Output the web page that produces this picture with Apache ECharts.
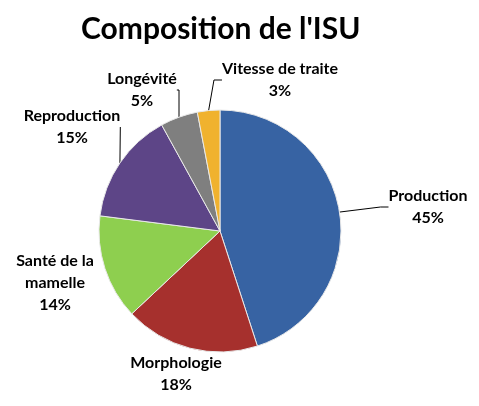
<!DOCTYPE html>
<html><head><meta charset="utf-8">
<script src="https://cdn.jsdelivr.net/npm/echarts@6/dist/echarts.min.js"></script>
<style>html,body{margin:0;padding:0;background:#fff}#c{width:479px;height:406px}</style>
</head><body><div id="c"></div>
<script>
const categories = ["Production", "Morphologie", "Santé de la\nmamelle", "Reproduction", "Longévité", "Vitesse de traite"];
const values = [45, 18, 14, 15, 5, 3];
const colors = ["#3763a3", "#a6302d", "#8ecf4f", "#5d4587", "#7f7f7f", "#f0b22e"];
const showLines = [true, false, false, true, true, true];
// label block centres (layout only)
const labelPos = [[428, 207], [176, 374], [55, 283], [72, 127], [142, 90], [280, 80]];

const chart = echarts.init(document.getElementById('c'), null, {renderer: 'canvas'});
chart.setOption({
  animation: false,
  title: {
    text: "Composition de l'ISU",
    left: 76, top: 9,
    textStyle: {fontFamily: 'Lato', fontWeight: 'bold', fontSize: 30, color: '#000'}
  },
  series: [{
    type: 'pie',
    center: [220, 231],
    radius: 121,
    startAngle: 90,
    clockwise: true,
    avoidLabelOverlap: false,
    itemStyle: {borderColor: '#e8e8e8', borderWidth: 1},
    label: {
      show: true,
      formatter: '{b}\n{d}%',
      fontFamily: 'Lato', fontWeight: 'bold', fontSize: 16, color: '#000',
      lineHeight: 22, align: 'center', overflow: 'none'
    },
    labelLine: {show: true, length: 14, length2: 8, lineStyle: {color: '#000', width: 1}},
    labelLayout: function (p) {
      const pos = labelPos[p.dataIndex];
      return {x: pos[0], y: pos[1], align: 'center', verticalAlign: 'middle'};
    },
    data: categories.map((n, i) => ({
      name: n, value: values[i],
      itemStyle: {color: colors[i]},
      labelLine: {show: showLines[i]}
    }))
  }]
});
</script></body></html>
